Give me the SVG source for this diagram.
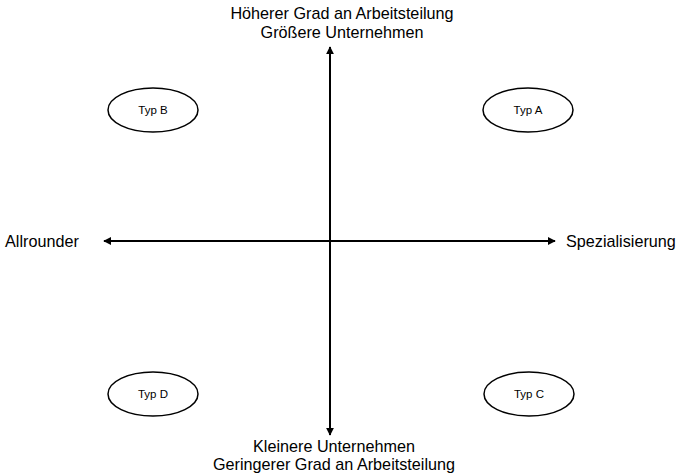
<svg xmlns="http://www.w3.org/2000/svg" width="682" height="473" viewBox="0 0 682 473">
<style>
.lbl{font-family:"Liberation Sans",Arial,sans-serif;font-size:16.2px;fill:#000}
.typ{font-family:"Liberation Sans",Arial,sans-serif;font-size:11.5px;fill:#000}
.node ellipse{fill:#fff;stroke:#000;stroke-width:1.5}
.ax{stroke:#000;stroke-width:2;fill:none}
</style>
<defs>
<marker id="ah" viewBox="0 0 10 10" refX="9" refY="5" markerWidth="4" markerHeight="4" orient="auto-start-reverse">
<path d="M0,0 L10,5 L0,10 z" fill="#000"/>
</marker>
</defs>
<rect width="682" height="473" fill="#fff"/>
<g id="connectors">
<line class="ax" x1="330" y1="241" x2="330" y2="47" marker-end="url(#ah)"/>
<line class="ax" x1="330" y1="241" x2="330" y2="435" marker-end="url(#ah)"/>
<line class="ax" x1="330" y1="241" x2="555" y2="241" marker-end="url(#ah)"/>
<line class="ax" x1="330" y1="241" x2="104" y2="241" marker-end="url(#ah)"/>
</g>
<g id="labels">
<text class="lbl" x="342" y="19" text-anchor="middle">Höherer Grad an Arbeitsteilung</text>
<text class="lbl" x="342" y="38" text-anchor="middle">Größere Unternehmen</text>
<text class="lbl" x="334" y="452" text-anchor="middle">Kleinere Unternehmen</text>
<text class="lbl" x="334" y="470" text-anchor="middle">Geringerer Grad an Arbeitsteilung</text>
<text class="lbl" x="5" y="247">Allrounder</text>
<text class="lbl" x="566" y="247">Spezialisierung</text>
</g>
<g id="typB" class="node"><ellipse cx="153" cy="110" rx="45" ry="22"/><text class="typ" x="153" y="114" text-anchor="middle">Typ B</text></g>
<g id="typA" class="node"><ellipse cx="528" cy="110" rx="45" ry="22"/><text class="typ" x="528" y="114" text-anchor="middle">Typ A</text></g>
<g id="typD" class="node"><ellipse cx="153" cy="394" rx="45" ry="22"/><text class="typ" x="153" y="398" text-anchor="middle">Typ D</text></g>
<g id="typC" class="node"><ellipse cx="529" cy="394" rx="45" ry="22"/><text class="typ" x="529" y="398" text-anchor="middle">Typ C</text></g>
</svg>
